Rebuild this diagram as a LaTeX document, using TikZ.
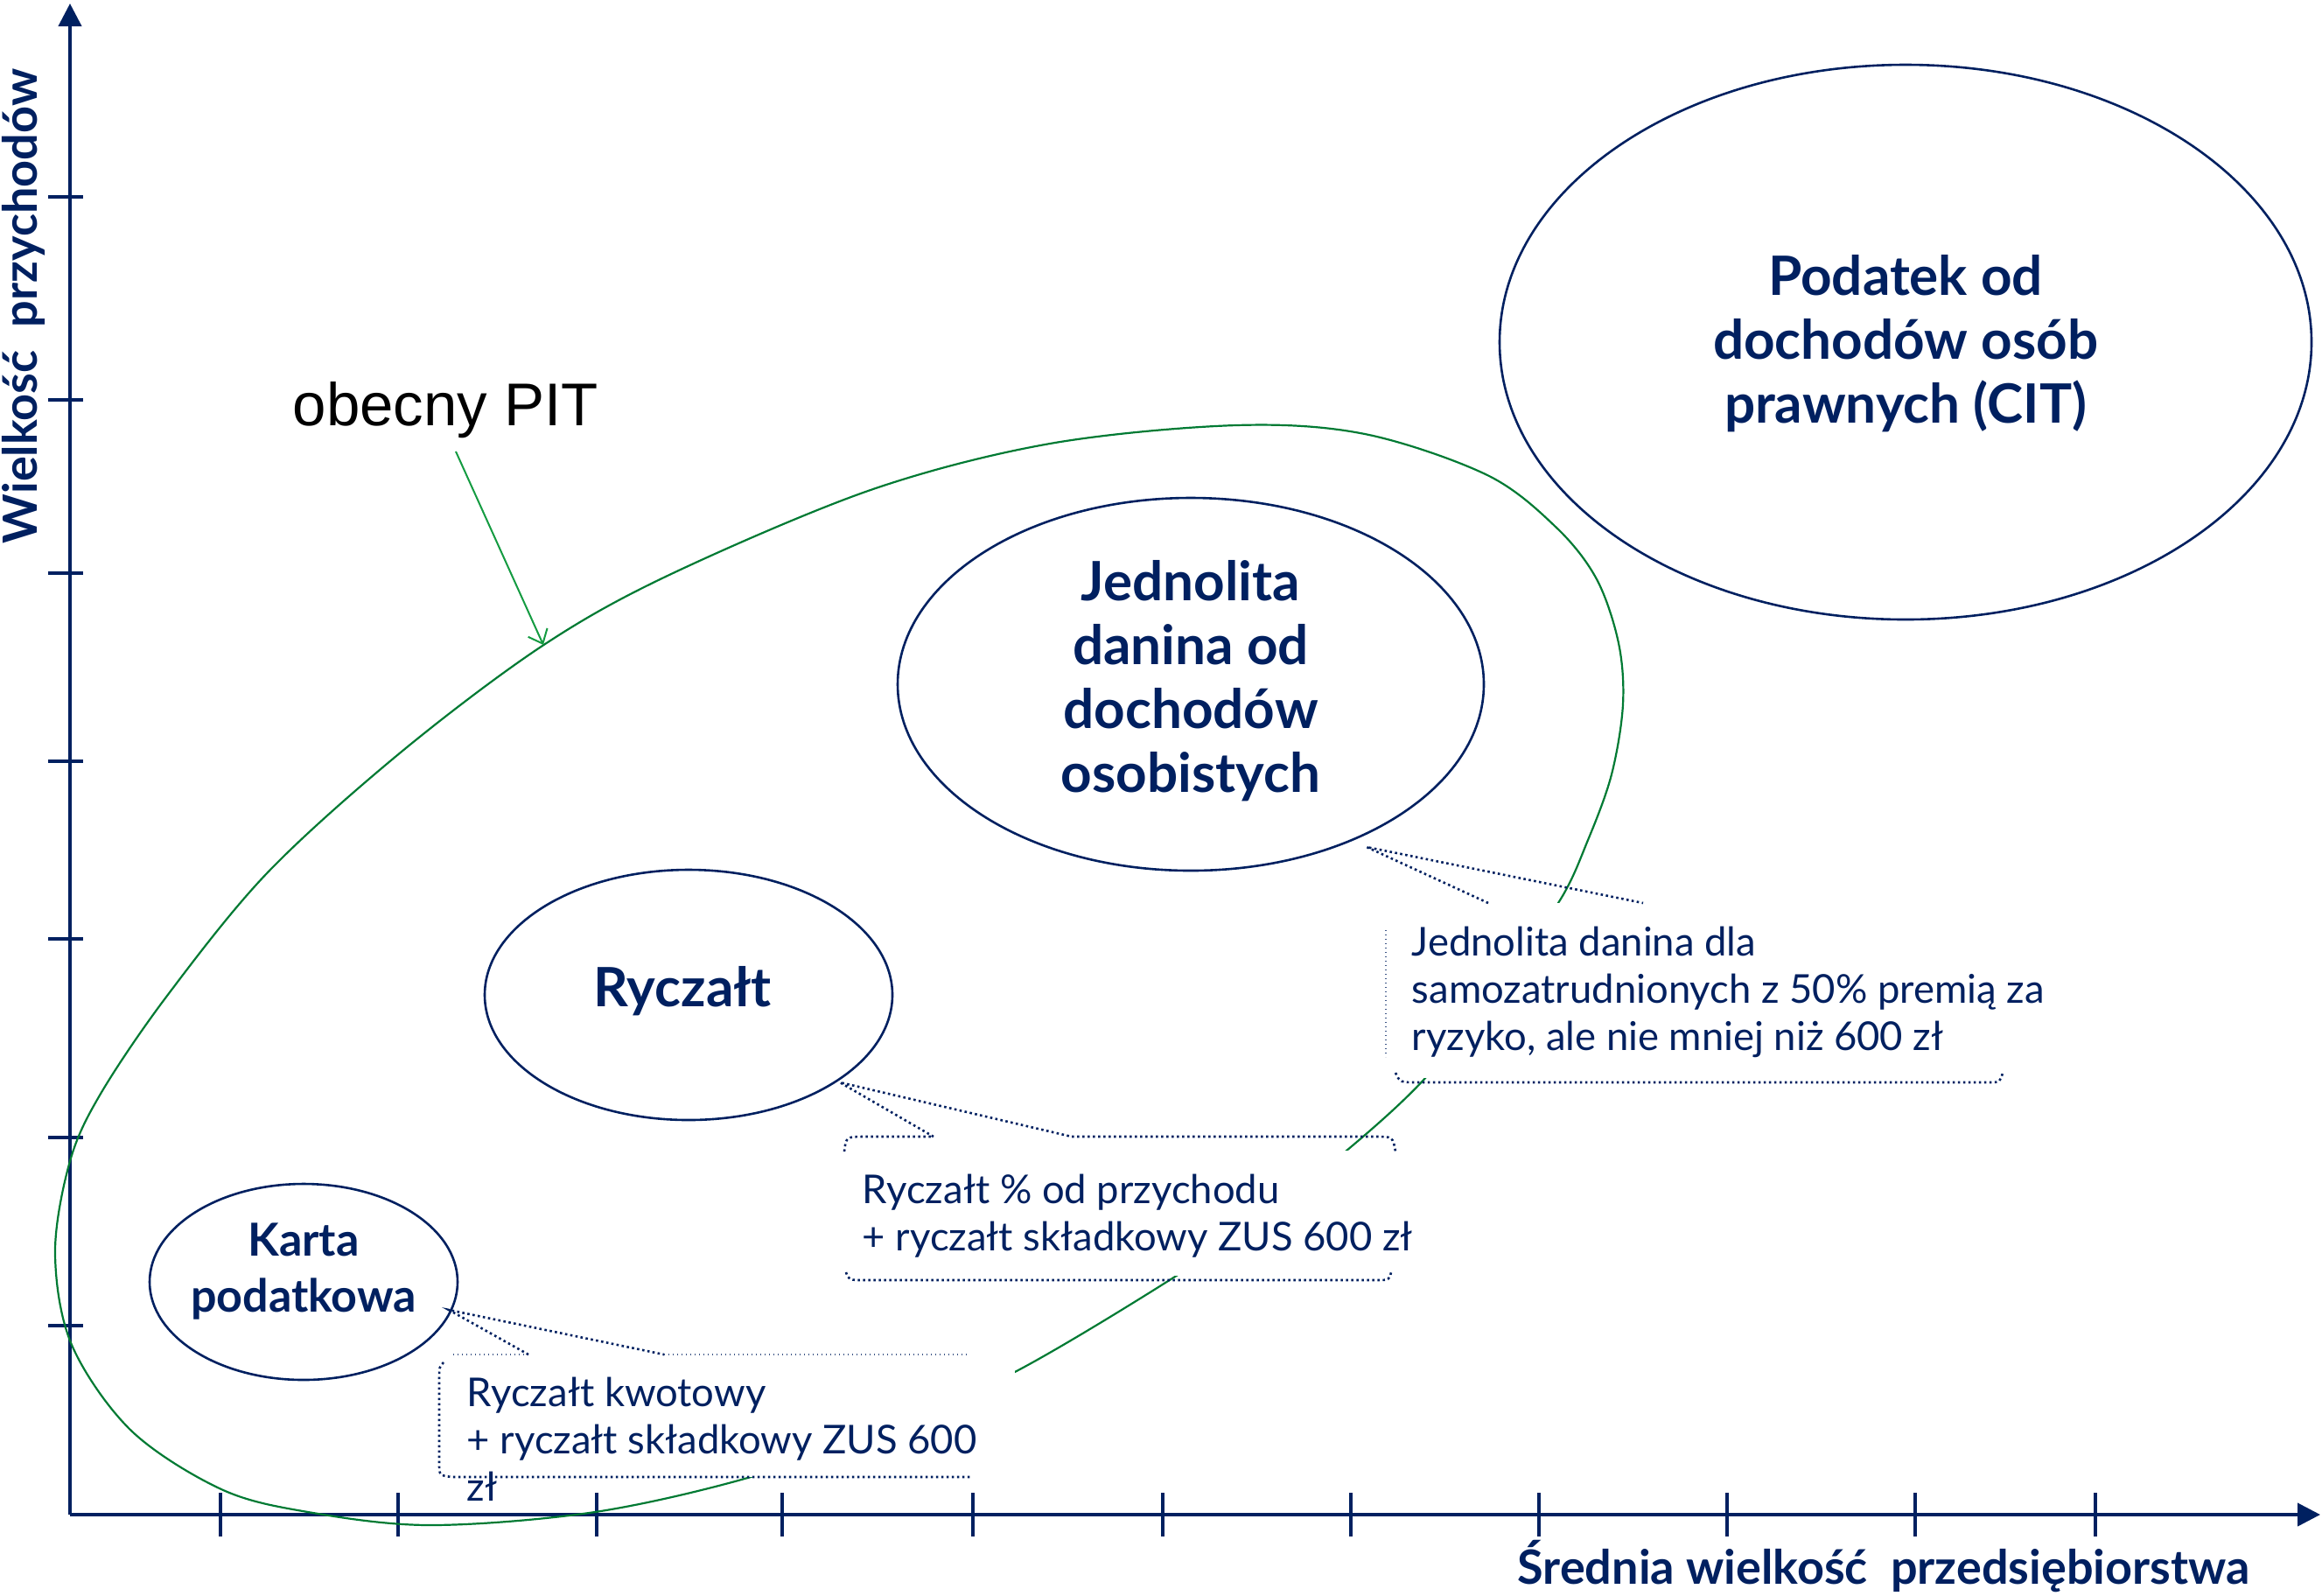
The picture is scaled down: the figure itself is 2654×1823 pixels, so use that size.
\documentclass[tikz,border=0pt]{standalone}
\usepackage{fontspec}
\setmainfont{Lato}
\newfontfamily\arialf{Liberation Sans}
\usetikzlibrary{arrows.meta,shapes.geometric,calc}
\definecolor{navy}{RGB}{0,32,96}
\definecolor{pitgreen}{RGB}{0,122,51}
\definecolor{arrowgreen}{RGB}{20,155,65}
\begin{document}
\begin{tikzpicture}[x=0.25pt,y=-0.25pt,
  axis/.style={draw=navy,line width=1pt},
  tickmark/.style={draw=navy,line width=1pt},
  ell/.style={ellipse,draw=navy,line width=0.65pt,inner sep=0pt,outer sep=0pt},
  elltext/.style={text=navy,font=\fontsize{15.5pt}{18.25pt}\selectfont\bfseries,align=center,inner sep=0pt},
  calltext/.style={text=navy,font=\fontsize{11.35pt}{13.5pt}\selectfont,align=left,inner sep=0pt,anchor=base west},
  axlabel/.style={text=navy,font=\fontsize{13.5pt}{16pt}\selectfont\bfseries,inner sep=0pt,anchor=base},
  maskbox/.style={fill=white,draw=none,inner sep=0pt,outer sep=0pt,anchor=north west},
  calldot/.style={draw=navy,line width=0.65pt,dash pattern=on 0.65pt off 0.85pt},
  thindot/.style={draw=navy!75,line width=0.35pt,dash pattern=on 0.35pt off 0.9pt},
]
\useasboundingbox (0,0) rectangle (2654,1823);

% axes
\coordinate (O) at (80,1731);
\coordinate (ytop) at (80,4);
\coordinate (xend) at (2652,1731);
\draw[axis,-{Triangle[length=6.5pt,width=6.5pt]}] (O) -- (ytop);
\draw[axis,-{Triangle[length=6.5pt,width=6.5pt]}] (O) -- (xend);
\foreach \y in {225,457,655,870,1073,1300,1515} \draw[tickmark] (55,\y) -- (95,\y);
\foreach \x in {252,455,682,894,1112,1329,1544,1759,1974,2189,2395} \draw[tickmark] (\x,1706) -- (\x,1756);

\node[axlabel,rotate=90] (ylab) at (42,350) {Wielkość\ \ przychodów};
\node[axlabel] (xlab) at (2153,1810) {Średnia wielkość\ \ przedsiębiorstwa};

% obecny PIT curve
\draw[pitgreen,line width=0.55pt] plot[smooth cycle,tension=0.55] coordinates {
 (1413,486) (1560,496) (1700,543) (1779,603) (1825,662) (1850,735) (1855,805)
 (1842,885) (1815,960) (1781,1032) (1705,1132) (1630,1231) (1539,1315) (1447,1384)
 (1354,1452) (1158,1569) (1000,1636) (858,1688) (680,1728) (492,1743) (352,1728)
 (253,1702) (150,1635) (82,1537) (63,1432) (80,1327) (115,1250) (191,1138)
 (306,997) (459,859) (620,738) (765,657) (995,560) (1200,507)};

% callout masks
\node[maskbox,minimum width=176.25pt,minimum height=50pt] (jbox) at (1583,1032) {};
\node[maskbox,minimum width=157.25pt,minimum height=35.75pt] (rbox) at (965,1315) {};
\node[maskbox,minimum width=164.5pt,minimum height=35pt] (kbox) at (502,1548) {};

% ellipses
\node[ell,minimum width=232pt,minimum height=158.5pt] (cit) at (2178,391) {};
\node[ell,minimum width=167.5pt,minimum height=106.5pt] (jed) at (1361,782) {};
\node[ell,minimum width=116.5pt,minimum height=71.5pt] (ryc) at (787,1137) {};
\node[ell,minimum width=88pt,minimum height=56pt] (kar) at (347,1465) {};

\node[elltext] (citt) at (2178,393) {Podatek od\\dochodów osób\\prawnych (CIT)};
\node[elltext] (jedt) at (1361,778) {Jednolita\\danina od\\dochodów\\osobistych};
\node[elltext,anchor=base] (ryct) at (780,1150) {Ryczałt};
\node[elltext,font=\fontsize{13pt}{16pt}\selectfont\bfseries] (kart) at (347,1453) {Karta\\podatkowa};

% callout texts (base = baseline of last line)
\node[calltext] (jtext) at (1613,1200) {Jednolita danina dla\\samozatrudnionych z 50\% premią za\\ryzyko, ale nie mniej niż 600 zł};
\node[calltext] (rtext) at (985,1429) {Ryczałt \% od przychodu\\+ ryczałt składkowy ZUS 600 zł};
\node[calltext] (ktext) at (533,1715) {Ryczałt kwotowy\\+ ryczałt składkowy ZUS 600\\zł};

% callout pointer coordinates
\coordinate (jtip) at (1562,968);
\coordinate (j1) at (1701,1032);
\coordinate (j2) at (1878,1032);
\coordinate (rtip) at (960,1237);
\coordinate (r1) at (1067,1299);
\coordinate (r2) at (1225,1299);
\coordinate (ktip) at (513,1497);
\coordinate (k1) at (604,1548);
\coordinate (k2) at (759,1548);

% Jednolita callout outline
\draw[thindot] (1584,1063) -- (1584,1208);
\draw[calldot] (1595,1226) .. controls (1600,1237) .. (1622,1237) -- (2272,1237) .. controls (2286,1237) .. (2289,1226);
\draw[calldot] (j1) -- (jtip) -- (j2);

% Ryczalt callout outline
\draw[calldot] (965,1316) .. controls (967,1299) .. (990,1299) -- (r1);
\draw[calldot] (r2) -- (1572,1299) .. controls (1592,1299) .. (1595,1316);
\draw[calldot] (967,1454) .. controls (970,1463) .. (990,1463) -- (1572,1463) .. controls (1588,1463) .. (1590,1454);
\draw[calldot] (r1) -- (rtip) -- (r2);

% Karta callout outline
\draw[thindot] (518,1548) -- (k1);
\draw[thindot] (k2) -- (1107,1548);
\draw[calldot] (507,1557) .. controls (502,1562) .. (502,1578) -- (502,1672) .. controls (502,1686) .. (516,1688) -- (1109,1688);
\draw[calldot] (k1) -- (ktip) -- (k2);

% obecny PIT label and arrow
\node[font=\arialf\fontsize{17.25pt}{20pt}\selectfont,anchor=base west,inner sep=0pt] (pit) at (334,486) {obecny PIT};
\coordinate (pitA) at (521,516);
\coordinate (pitB) at (621,737);
\draw[arrowgreen,line width=0.5pt,-{Straight Barb[length=3.5pt,width=6pt]}] (pitA) -- (pitB);
\end{tikzpicture}
\end{document}
